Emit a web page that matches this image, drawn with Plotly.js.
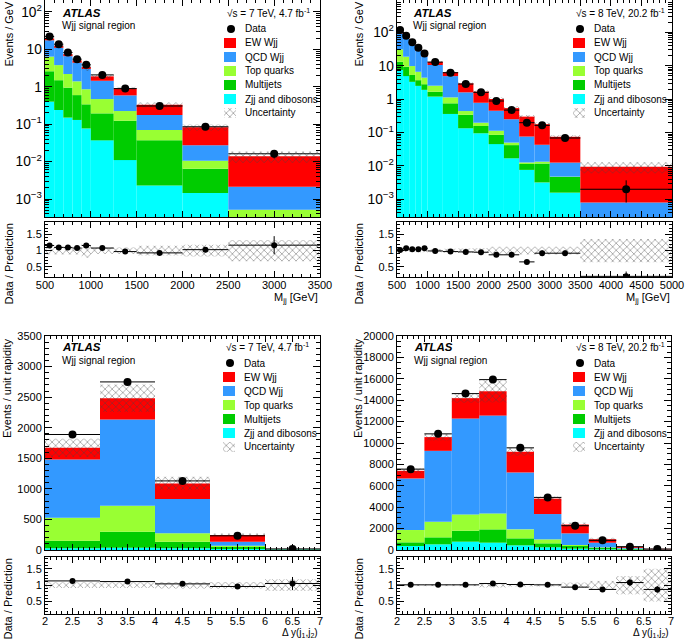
<!DOCTYPE html>
<html><head><meta charset="utf-8">
<script src="https://cdn.plot.ly/plotly-3.0.1.min.js"></script>
<style>html,body{margin:0;padding:0;background:#fff}#chart{width:685px;height:641px}</style>
</head><body><div id="chart"></div>
<script>
// ================= DATA =================
// Panel 1: sqrt(s)=7 TeV, M_jj
const edges7m = [500,600,700,800,900,1000,1250,1500,2000,2500,3500];
const zjj7m  = [0.40,0.24,0.15,0.13,0.077,0.037,0.011,0.0023,0.00145,0.0001];
const mj7m   = [2.2,1.26,0.8,0.47,0.263,0.158,0.113,0.0352,0.00505,0.0001];
const top7m  = [3.8,2.3,1.25,0.8,0.52,0.275,0.101,0.0325,0.004,0.00032];
const qcd7m  = [11.1,7.2,4.4,3.0,2.14,0.98,0.365,0.106,0.017,0.0016];
const ew7m   = [2.0,1.5,0.9,0.7,0.4,0.45,0.32,0.154,0.0555,0.0119];
const data7m = [22.2,13.8,8.27,5.48,3.86,2.08,0.895,0.307,0.0855,0.0162];
const dataErr7m = [0.45,0.35,0.25,0.2,0.17,0.07,0.03,0.01,0.004,0.004];
const ratio7m = [1.16,1.1,1.1,1.08,1.16,1.08,0.97,0.93,1.03,1.17];
const ratioErr7m = [0.02,0.02,0.03,0.03,0.05,0.03,0.03,0.03,0.05,0.28];
const unc7m = [0.12,0.12,0.12,0.12,0.22,0.1,0.1,0.15,0.18,0.33];

// Panel 2: sqrt(s)=8 TeV, M_jj
const edges8m = [500,600,700,800,900,1000,1250,1500,1750,2000,2250,2500,2750,3000,3500,5000];
const zjj8m  = [7.5,4.9,3.3,2.5,1.9,1.19,0.36,0.134,0.095,0.045,0.0169,0.0076,0.0032,0.00158,0.00005];
const mj8m   = [5.7,4.5,2.0,1.2,0.9,0.48,0.39,0.206,0.062,0.04,0.0251,0.0038,0.0086,0.0031,0.00005];
const top8m  = [17.8,9.3,4.5,2.9,1.6,0.86,0.38,0.10,0.04,0.028,0.008,0.0013,0.0016,0.0001,0.00005];
const qcd8m  = [62,45.3,32.2,22.4,14.6,8.0,3.77,1.16,0.583,0.337,0.2,0.0631,0.0296,0.0078,0.00065];
const ew8m   = [21.7,9.8,7.0,4.5,3.0,2.5,1.5,1.36,0.9,0.56,0.29,0.224,0.135,0.062,0.0087];
const data8m = [117,79,51,34.8,23.5,12.9,6.2,2.84,1.6,0.88,0.47,0.197,0.164,0.0686,0.002];
const dataErr8m   = [1.2,1.0,0.8,0.6,0.5,0.2,0.12,0.07,0.05,0.04,0.03,0.015,0.015,0.006,0.0017];
const dataErrLo8m = [1.2,1.0,0.8,0.6,0.5,0.2,0.12,0.07,0.05,0.04,0.03,0.015,0.015,0.006,0.0012];
const ratio8m = [1.02,1.07,1.04,1.04,1.07,0.99,0.97,0.96,0.95,0.87,0.87,0.65,0.92,0.92,0.2];
const ratioErr8m = [0.01,0.01,0.01,0.01,0.02,0.02,0.02,0.03,0.04,0.05,0.06,0.06,0.09,0.09,0.15];
const unc8m = [0.04,0.04,0.04,0.05,0.05,0.05,0.06,0.07,0.08,0.12,0.12,0.12,0.12,0.12,0.36];

// Panel 3: sqrt(s)=7 TeV, Delta y(j1,j2)
const edges7y = [2,3,4,5,6,7];
const zjj7y  = [27,38,27,15,3];
const mj7y   = [125,262,109,35,9];
const top7y  = [376,424,136,20,1];
const qcd7y  = [953,1410,561,66,2];
const ew7y   = [190,348,256,109,2];
const data7y = [1889,2749,1130,232,18];
const dataErr7y = [35,45,30,15,4];
const ratio7y = [1.13,1.11,1.04,0.96,1.05];
const ratioErr7y = [0.02,0.02,0.02,0.03,0.2];
const unc7y = [0.09,0.09,0.1,0.1,0.18];

// Panel 4: sqrt(s)=8 TeV, Delta y(j1,j2)
const edges8y = [2,2.5,3,3.5,4,4.5,5,5.5,6,6.5,7];
const zjj8y  = [373,529,778,684,435,249,124,62,31,8];
const mj8y   = [342,653,1026,1244,654,373,249,156,62,17];
const top8y  = [1151,1462,1524,1493,839,373,94,31,31,5];
const qcd8y  = [4821,6624,8957,9143,5318,2364,1088,435,76,30];
const ew8y   = [713,1282,1905,2271,1934,1441,825,326,85,45];
const data8y = [7557,10854,14617,15923,9548,4914,2270,902,311,92];
const dataErr8y = [90,105,120,125,100,70,48,30,18,10];
const ratio8y = [1.01,1.01,1.01,1.05,1.02,1.01,0.94,0.87,1.08,0.87];
const ratioErr8y = [0.01,0.01,0.01,0.01,0.01,0.02,0.02,0.04,0.1,0.1];
const unc8y = [0.03,0.03,0.03,0.07,0.04,0.04,0.08,0.13,0.28,0.5];

const legendNames = ['Data','EW Wjj','QCD Wjj','Top quarks','Multijets','Zjj and dibosons','Uncertainty'];
const energyLabels = ['\u221As = 7 TeV, 4.7 fb<sup>-1</sup>','\u221As = 8 TeV, 20.2 fb<sup>-1</sup>'];

// ================= STYLE / GEOMETRY =================
const W = 685, H = 641;
const FONT = 'Liberation Sans, Arial, Helvetica, sans-serif';
const STACK_COLORS = ['#00FFFF','#00CC00','#99FF33','#3399FF','#FF0000']; // zjj, mj, top, qcd, ew
const LEGEND_COLORS = ['#FF0000','#3399FF','#99FF33','#00CC00','#00FFFF'];
const HATCH = {shape:'x', fgcolor:'#444', bgcolor:'rgba(0,0,0,0)', size:5, solidity:0.3, fillmode:'overlay'};

const panels = [
  {edges:edges7m, comps:[zjj7m,mj7m,top7m,qcd7m,ew7m], data:data7m, errHi:dataErr7m, errLo:dataErr7m,
   ratio:ratio7m, ratioErr:ratioErr7m, unc:unc7m, log:true,
   left:45, right:320, mTop:0, mBot:217, rTop:222, rBot:277, yRange:[-3.48,2.32], rRange:[0.18,1.89],
   xdtick:500, xminor:100, ytitle:'Events / GeV', xtitle:'M<sub>jj</sub> [GeV]', xtSize:11, tlOff:-2, textX:243, rowY0:29, atlasX:60, energy:0, atlasY:13, ytOff:37},
  {edges:edges8m, comps:[zjj8m,mj8m,top8m,qcd8m,ew8m], data:data8m, errHi:dataErr8m, errLo:dataErrLo8m,
   ratio:ratio8m, ratioErr:ratioErr8m, unc:unc8m, log:true,
   left:397, right:672, mTop:0, mBot:217, rTop:222, rBot:277, yRange:[-3.53,2.97], rRange:[0.18,1.89],
   xdtick:500, xminor:100, ytitle:'Events / GeV', xtitle:'M<sub>jj</sub> [GeV]', xtSize:11, tlOff:-2, textX:592, rowY0:29, atlasX:411, energy:1, atlasY:13, ytOff:39},
  {edges:edges7y, comps:[zjj7y,mj7y,top7y,qcd7y,ew7y], data:data7y, errHi:dataErr7y, errLo:dataErr7y,
   ratio:ratio7y, ratioErr:ratioErr7y, unc:unc7y, log:false,
   left:45, right:320, mTop:336, mBot:550, rTop:557, rBot:614, yRange:[0,3500], rRange:[0.12,1.86], ydtick:500, yminor:100,
   xdtick:0.5, xminor:0.1, ytitle:'Events / unit rapidity', xtitle:'\u0394 y(j<sub>1</sub>,j<sub>2</sub>)', xtSize:10, tlOff:-3, textX:242, rowY0:363, atlasX:60, energy:0, atlasY:347, ytOff:38},
  {edges:edges8y, comps:[zjj8y,mj8y,top8y,qcd8y,ew8y], data:data8y, errHi:dataErr8y, errLo:dataErr8y,
   ratio:ratio8y, ratioErr:ratioErr8y, unc:unc8y, log:false,
   left:397, right:671, mTop:336, mBot:550, rTop:557, rBot:614, yRange:[0,20000], rRange:[0.12,1.86], ydtick:2000, yminor:500,
   xdtick:0.5, xminor:0.1, ytitle:'Events / unit rapidity', xtitle:'\u0394 y(j<sub>1</sub>,j<sub>2</sub>)', xtSize:10, tlOff:-3, textX:592, rowY0:363, atlasX:412, energy:1, atlasY:347, ytOff:39}
];

const centers = e => e.slice(0,-1).map((v,i)=>(v+e[i+1])/2);
const widths  = e => e.slice(0,-1).map((v,i)=>e[i+1]-v);
const sfx = n => n===1 ? '' : String(n);
const px2x = x => x / W;
const px2y = y => 1 - y / H;

const traces = [];
const layout = {
  width: W, height: H, autosize:false,
  margin:{l:0,r:0,t:0,b:0,pad:0},
  paper_bgcolor:'#fff', plot_bgcolor:'rgba(0,0,0,0)',
  barmode:'overlay', showlegend:false,
  font:{family:FONT, size:11, color:'#000'},
  annotations:[]
};

const tickFont = {family:FONT, size:11, color:'#000'};
function baseAxis(extra){
  return Object.assign({
    showline:true, linecolor:'#000', linewidth:1, mirror:'ticks',
    ticks:'inside', ticklen:7, tickwidth:1, tickcolor:'#000',
    showgrid:false, zeroline:false, tickfont:tickFont, fixedrange:true
  }, extra);
}

panels.forEach((p, k) => {
  const mi = 2*k+1, ri = 2*k+2;
  const ctr = centers(p.edges), wid = widths(p.edges), half = wid.map(w=>w/2);
  const xRange = [p.edges[0], p.edges[p.edges.length-1]];
  const xDom = [px2x(p.left), px2x(p.right)];

  // axes
  layout['xaxis'+sfx(mi)] = baseAxis({domain:xDom, range:xRange, anchor:'y'+sfx(mi), showticklabels:false,
    dtick:p.xdtick, tick0:0, ticklen:6, minor:{ticks:'inside', ticklen:3, dtick:p.xminor, tickcolor:'#000'}});
  const yMain = p.log
    ? {type:'log', dtick:1, exponentformat:'power', minor:{ticks:'inside', ticklen:4, dtick:'D1', tickcolor:'#000'}}
    : {type:'linear', dtick:p.ydtick, tick0:0, tickformat:'d', minor:{ticks:'inside', ticklen:4, dtick:p.yminor, tickcolor:'#000'}};
  layout['yaxis'+sfx(mi)] = baseAxis(Object.assign({domain:[px2y(p.mBot), px2y(p.mTop)], range:p.yRange, anchor:'x'+sfx(mi)}, yMain));
  layout['xaxis'+sfx(ri)] = baseAxis({domain:xDom, range:xRange, anchor:'y'+sfx(ri), dtick:p.xdtick, tick0:0, ticklen:6,
    ticklabelstandoff:p.tlOff, minor:{ticks:'inside', ticklen:3, dtick:p.xminor, tickcolor:'#000'}});
  layout['yaxis'+sfx(ri)] = baseAxis({domain:[px2y(p.rBot), px2y(p.rTop)], range:p.rRange, anchor:'x'+sfx(ri),
    dtick:0.5, tick0:0, minor:{ticks:'inside', ticklen:3, dtick:0.1, tickcolor:'#000'}});

  const xa = 'x'+sfx(mi), ya = 'y'+sfx(mi), xr = 'x'+sfx(ri), yr = 'y'+sfx(ri);

  // stacked backgrounds
  let cum = ctr.map(()=> p.log ? 1e-7 : 0);
  p.comps.forEach((arr, j) => {
    traces.push({type:'bar', x:ctr, y:arr, base:cum.slice(), width:wid, xaxis:xa, yaxis:ya,
      marker:{color:STACK_COLORS[j], line:{width:0}}, hoverinfo:'skip'});
    cum = cum.map((c,i)=>c+arr[i]);
  });
  // uncertainty band
  traces.push({type:'bar', x:ctr, y:cum.map((t,i)=>2*t*p.unc[i]), base:cum.map((t,i)=>t*(1-p.unc[i])), width:wid,
    xaxis:xa, yaxis:ya, marker:{color:'rgba(0,0,0,0)', line:{width:0}, pattern:HATCH}, hoverinfo:'skip'});
  // data
  traces.push({type:'scatter', mode:'markers', x:ctr, y:p.data, xaxis:xa, yaxis:ya,
    marker:{color:'#000', size:8},
    error_x:{type:'data', array:half, width:0, thickness:1, color:'#000'},
    error_y:{type:'data', array:p.errHi, arrayminus:p.errLo, width:0, thickness:1, color:'#000'}});

  // ratio band
  traces.push({type:'bar', x:ctr, y:p.unc.map(u=>2*u), base:p.unc.map(u=>1-u), width:wid, xaxis:xr, yaxis:yr,
    marker:{color:'rgba(0,0,0,0)', line:{width:0}, pattern:HATCH}, hoverinfo:'skip'});
  traces.push({type:'scatter', mode:'markers', x:ctr, y:p.ratio, xaxis:xr, yaxis:yr,
    marker:{color:'#000', size:6},
    error_x:{type:'data', array:half, width:0, thickness:1, color:'#000'},
    error_y:{type:'data', array:p.ratioErr, width:0, thickness:1, color:'#000'}});

  // legend (on overlay px axis x99/y99)
  const rows = legendNames.map((_,i)=>p.rowY0 + 14*i);
  traces.push({type:'scatter', mode:'markers', x:[p.textX-12], y:[rows[0]], xaxis:'x99', yaxis:'y99',
    marker:{color:'#000', size:8}, hoverinfo:'skip'});
  traces.push({type:'bar', x:rows.slice(1,6).map(()=>p.textX-13), y:rows.slice(1,6).map(()=>10),
    base:rows.slice(1,6).map(r=>r-5), width:rows.slice(1,6).map(()=>12), xaxis:'x99', yaxis:'y99',
    marker:{color:LEGEND_COLORS, line:{width:0}}, hoverinfo:'skip'});
  traces.push({type:'bar', x:[p.textX-13], y:[10], base:[rows[6]-5], width:[12], xaxis:'x99', yaxis:'y99',
    marker:{color:'rgba(0,0,0,0)', line:{width:0}, pattern:HATCH}, hoverinfo:'skip'});
  legendNames.forEach((name,i)=>{
    layout.annotations.push({xref:'paper', yref:'paper', x:px2x(p.textX), y:px2y(rows[i]), xanchor:'left', yanchor:'middle',
      text:name, showarrow:false, font:{family:FONT, size:10, color:'#000'}});
  });

  // ATLAS labels
  layout.annotations.push({xref:'paper', yref:'paper', x:px2x(p.atlasX), y:px2y(p.atlasY), xanchor:'left', yanchor:'middle',
    text:'<b><i>ATLAS</i></b>', showarrow:false, font:{family:FONT, size:11.5, color:'#000'}});
  layout.annotations.push({xref:'paper', yref:'paper', x:px2x(p.atlasX), y:px2y(p.atlasY+13), xanchor:'left', yanchor:'middle',
    text:'Wjj signal region', showarrow:false, font:{family:FONT, size:10, color:'#000'}});
  layout.annotations.push({xref:'paper', yref:'paper', x:px2x(p.textX-18), y:px2y(p.atlasY), xanchor:'left', yanchor:'middle',
    text:energyLabels[p.energy], showarrow:false, font:{family:FONT, size:10, color:'#000'}});

  // axis titles (ROOT style: aligned to top / right end)
  const ytx = p.left - p.ytOff;
  layout.annotations.push({xref:'paper', yref:'paper', x:px2x(ytx), y:px2y(p.mTop), xanchor:'center', yanchor:'top',
    text:p.ytitle, textangle:-90, showarrow:false, font:{family:FONT, size:11, color:'#000'}});
  layout.annotations.push({xref:'paper', yref:'paper', x:px2x(ytx), y:px2y(p.rTop), xanchor:'center', yanchor:'top',
    text:'Data / Prediction', textangle:-90, showarrow:false, font:{family:FONT, size:11, color:'#000'}});
  layout.annotations.push({xref:'paper', yref:'paper', x:px2x(p.right), y:px2y(Math.min(H, p.rBot+30)), xanchor:'right', yanchor:'bottom',
    text:p.xtitle, showarrow:false, font:{family:FONT, size:p.xtSize, color:'#000'}});
});

layout.xaxis99 = {domain:[0,1], range:[0,W], visible:false, fixedrange:true, anchor:'y99'};
layout.yaxis99 = {domain:[0,1], range:[H,0], visible:false, fixedrange:true, anchor:'x99'};

Plotly.newPlot('chart', traces, layout, {staticPlot:true, displayModeBar:false});
</script></body></html>
